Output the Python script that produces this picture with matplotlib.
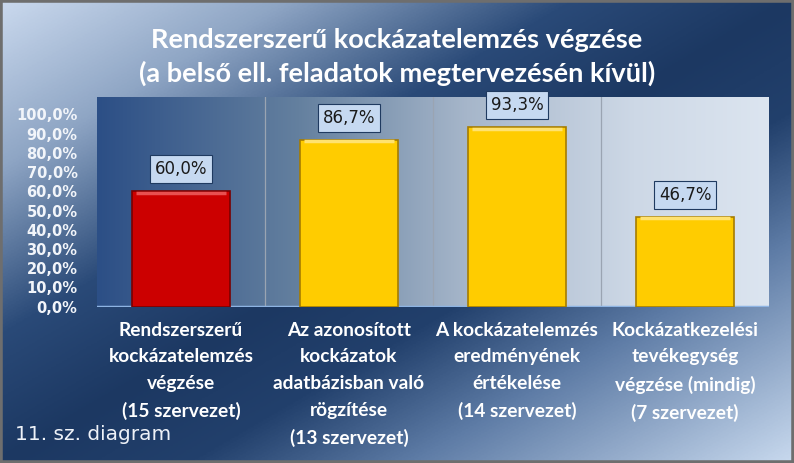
import numpy as np
import matplotlib
matplotlib.use("Agg")
import matplotlib.pyplot as plt
from matplotlib.colors import LinearSegmentedColormap
from matplotlib.patches import Rectangle
from matplotlib.ticker import FuncFormatter

title = "Rendszerszerű kockázatelemzés végzése\n(a belső ell. feladatok megtervezésén kívül)"
categories = [
    "Rendszerszerű\nkockázatelemzés\nvégzése\n(15 szervezet)",
    "Az azonosított\nkockázatok\nadatbázisban való\nrögzítése\n(13 szervezet)",
    "A kockázatelemzés\neredményének\nértékelése\n(14 szervezet)",
    "Kockázatkezelési\ntevékegység\nvégzése (mindig)\n(7 szervezet)",
]
values = [0.600, 0.867, 0.933, 0.467]
value_labels = ["60,0%", "86,7%", "93,3%", "46,7%"]
footnote = "11. sz. diagram"

bar_colors = ["#CC0000", "#FFCC00", "#FFCC00", "#FFCC00"]
edge_colors = ["#7A0000", "#A67C00", "#A67C00", "#A67C00"]
top_colors = ["#E85050", "#FFE270", "#FFE270", "#FFE270"]

W, H = 794, 463
fig = plt.figure(figsize=(W / 100, H / 100), dpi=100)

# figure background: diagonal light - dark - light gradient
bg = fig.add_axes([0, 0, 1, 1], zorder=-10)
yy, xx = np.mgrid[0:1:300j, 0:1:500j]
t = (xx + yy) / 2
bg_cmap = LinearSegmentedColormap.from_list("bg", [
    (0.0, "#CAD9EE"), (0.18, "#8EA5C4"), (0.36, "#2A4A78"),
    (0.5, "#1C3862"), (0.62, "#22406C"), (0.76, "#5E7CA6"),
    (1.0, "#C8D9EE")])
bg.imshow(t, cmap=bg_cmap, extent=[0, 1, 0, 1], aspect="auto", origin="upper")
bg.add_patch(Rectangle((0, 0), 1, 1, transform=bg.transAxes, fill=False,
                       edgecolor="#6E6E6E", linewidth=4))
bg.set_axis_off()

ax = fig.add_axes([97 / W, 1 - 306.7 / H, 672 / W, 209.7 / H])
ax.set_facecolor("none")
x = np.arange(len(categories))
ax.set_xlim(-0.5, len(categories) - 0.5)
ax.set_ylim(0, 1.09)

# plot area: horizontal dark-to-light gradient
pa_cmap = LinearSegmentedColormap.from_list("pa", [
    (0.0, "#2C4F86"), (0.3, "#64809F"), (0.55, "#A6B6CA"),
    (0.8, "#CDD8E6"), (1.0, "#DCE5F0")])
ax.imshow(np.linspace(0, 1, 256)[None, :], cmap=pa_cmap, aspect="auto",
          extent=[-0.5, len(categories) - 0.5, 0, 1.09], zorder=0)

for b in x[1:]:
    ax.axvline(b - 0.5, color="#9AA4B2", linewidth=0.9, zorder=1)
ax.axhline(0, color="#8EB4E3", linewidth=2.5, zorder=2)

bars = ax.bar(x, values, width=0.58, color=bar_colors, edgecolor=edge_colors,
              linewidth=1.2, zorder=3)
# light bevel along the top of each bar
for xi, v, c in zip(x, values, top_colors):
    ax.plot([xi - 0.27, xi + 0.27], [v - 0.008, v - 0.008], color=c,
            linewidth=2.5, solid_capstyle="butt", zorder=4)

for xi, v, lab in zip(x, values, value_labels):
    ax.annotate(lab, (xi, v), xytext=(0, 16), textcoords="offset points",
                ha="center", va="center", fontsize=12, color="#1A1A1A",
                bbox=dict(boxstyle="square,pad=0.3", facecolor="#C6D9F1",
                          edgecolor="#1F3A60", linewidth=0.8), zorder=5)

ax.set_yticks(np.arange(0, 1.01, 0.1))
ax.yaxis.set_major_formatter(FuncFormatter(lambda v, p: f"{v * 100:.1f}%".replace(".", ",")))
ax.tick_params(axis="y", length=0, pad=14, labelsize=10.5, labelcolor="#F2F5FA")
for lbl in ax.get_yticklabels():
    lbl.set_fontweight("bold")

ax.set_xticks(x)
ax.set_xticklabels(categories, family="Lato", fontweight="bold", fontsize=13.8,
                   color="white", linespacing=1.68, va="top")
ax.tick_params(axis="x", length=0, pad=11)

for s in ax.spines.values():
    s.set_visible(False)

fig.text(0.5, 1 - 57 / H, title, ha="center", va="center", family="Lato",
         fontweight="bold", fontsize=19.5, color="white", linespacing=1.45)
fig.text(15 / W, 1 - 435 / H, footnote, ha="left", va="center",
         fontsize=14.5, color="#EEF2F8")

fig.savefig("out.png", dpi=100)
